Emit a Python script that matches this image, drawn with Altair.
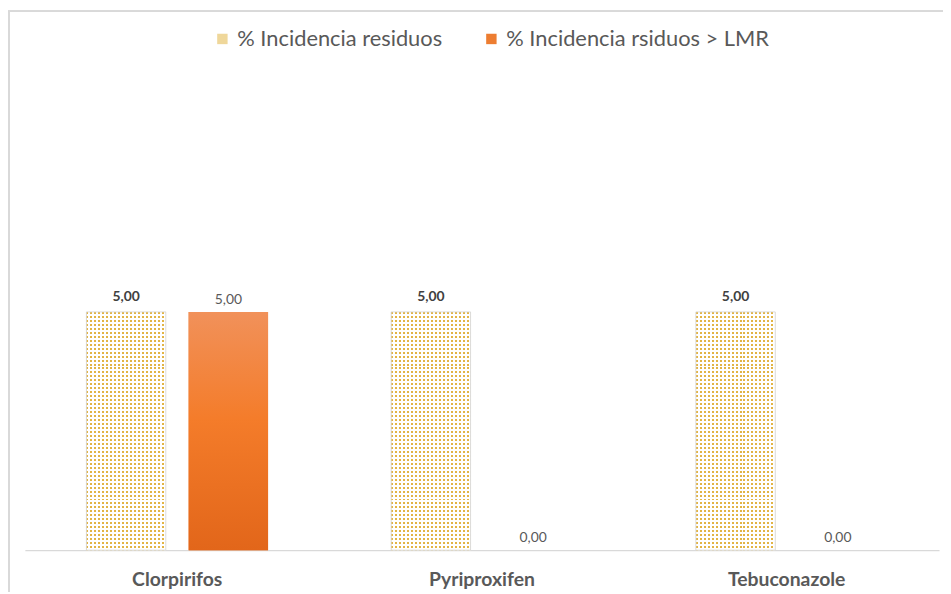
import altair as alt
import pandas as pd

categories = ["Clorpirifos", "Pyriproxifen", "Tebuconazole"]
series = ["% Incidencia residuos", "% Incidencia rsiduos > LMR"]
residuos = [5.0, 5.0, 5.0]
residuos_lmr = [5.0, 0.0, 0.0]

rows = []
for c, a, b in zip(categories, residuos, residuos_lmr):
    rows.append({"cat": c, "serie": series[0], "valor": a})
    rows.append({"cat": c, "serie": series[1], "valor": b})
df = pd.DataFrame(rows)

FONT = "Lato"
GOLD = "#e2b445"


def stripes(n, frac, on, off, horizontal):
    stops = []
    for k in range(n):
        a = k / n
        b = (k + frac) / n
        stops += [
            alt.GradientStop(offset=a, color=off),
            alt.GradientStop(offset=a, color=on),
            alt.GradientStop(offset=b, color=on),
            alt.GradientStop(offset=b, color=off),
        ]
    stops.append(alt.GradientStop(offset=1, color=off))
    if horizontal:
        return alt.LinearGradient(gradient="linear", stops=stops, x1=0, x2=1, y1=0, y2=0)
    return alt.LinearGradient(gradient="linear", stops=stops, x1=0, x2=0, y1=0, y2=1)


x_enc = alt.X(
    "cat:N",
    sort=categories,
    scale=alt.Scale(paddingInner=0, paddingOuter=0),
    axis=alt.Axis(
        title=None,
        ticks=False,
        labelAngle=0,
        labelFont=FONT,
        labelFontSize=19.5,
        labelFontWeight="bold",
        labelColor="#595959",
        labelPadding=21,
        domainColor="#d9d9d9",
        domainWidth=1.2,
    ),
)
xoff_enc = alt.XOffset(
    "serie:N",
    scale=alt.Scale(domain=series, paddingInner=23 / 103, paddingOuter=0.6019),
)
y_enc = alt.Y("valor:Q", scale=alt.Scale(domain=[0, 10]), axis=None)

base = alt.Chart(df)

bars = base.mark_bar().encode(
    x=x_enc,
    xOffset=xoff_enc,
    y=y_enc,
    color=alt.Color(
        "serie:N",
        scale=alt.Scale(domain=series, range=["#efd79a", "#ed7d31"]),
        legend=alt.Legend(
            title=None,
            orient="none",
            legendX=188,
            legendY=-46,
            direction="horizontal",
            labelFont=FONT,
            labelFontSize=22,
            labelColor="#595959",
            labelLimit=0,
            symbolType="square",
            symbolSize=110,
            symbolStrokeWidth=0,
            columnPadding=38,
            labelOffset=4,
        ),
    ),
)

s1 = base.transform_filter(alt.datum.serie == series[0])
s2 = base.transform_filter(alt.datum.serie == series[1])

pat_v = s1.mark_bar(fill=stripes(20, 0.5, GOLD, "#ffffff", True)).encode(
    x=x_enc, xOffset=xoff_enc, y=y_enc
)
pat_h = s1.mark_bar(
    fill=stripes(60, 0.5, "rgba(255,255,255,0)", "#ffffff", False),
    stroke="#d4d4d4",
    strokeWidth=0.8,
).encode(x=x_enc, xOffset=xoff_enc, y=y_enc)

orange = s2.mark_bar(
    fill=alt.LinearGradient(
        gradient="linear",
        x1=0, x2=0, y1=0, y2=1,
        stops=[
            alt.GradientStop(offset=0, color="#f1915a"),
            alt.GradientStop(offset=0.45, color="#f47c2a"),
            alt.GradientStop(offset=1, color="#e2661a"),
        ],
    )
).encode(x=x_enc, xOffset=xoff_enc, y=y_enc)

lbl_expr = "replace(format(datum.valor, '.2f'), '.', ',')"

txt1 = s1.transform_calculate(lbl=lbl_expr).mark_text(
    baseline="bottom", dy=-8, font=FONT, fontSize=14, fontWeight="bold", color="#404040"
).encode(x=x_enc, xOffset=xoff_enc, y=y_enc, text="lbl:N")

txt2 = s2.transform_calculate(lbl=lbl_expr).mark_text(
    baseline="bottom", dy=-5, font=FONT, fontSize=14, color="#595959"
).encode(x=x_enc, xOffset=xoff_enc, y=y_enc, text="lbl:N")

frame_top = alt.Chart(df).mark_rule(color="#d9d9d9", strokeWidth=1.5).encode(
    x=alt.value(-17), x2=alt.value(940), y=alt.value(-63)
)
frame_left = alt.Chart(df).mark_rule(color="#d9d9d9", strokeWidth=1.5).encode(
    x=alt.value(-16), y=alt.value(-63), y2=alt.value(530)
)

chart = (
    alt.layer(bars, pat_v, pat_h, orange, txt1, txt2, frame_top, frame_left)
    .properties(
        width=921,
        height=480,
        autosize=alt.AutoSizeParams(type="none"),
        padding={"left": 17, "top": 64, "right": 4, "bottom": 40},
    )
    .configure(background="white", view=alt.ViewConfig(stroke=None))
)

chart.save("out.html", embed_options={"renderer": "svg", "actions": False})
